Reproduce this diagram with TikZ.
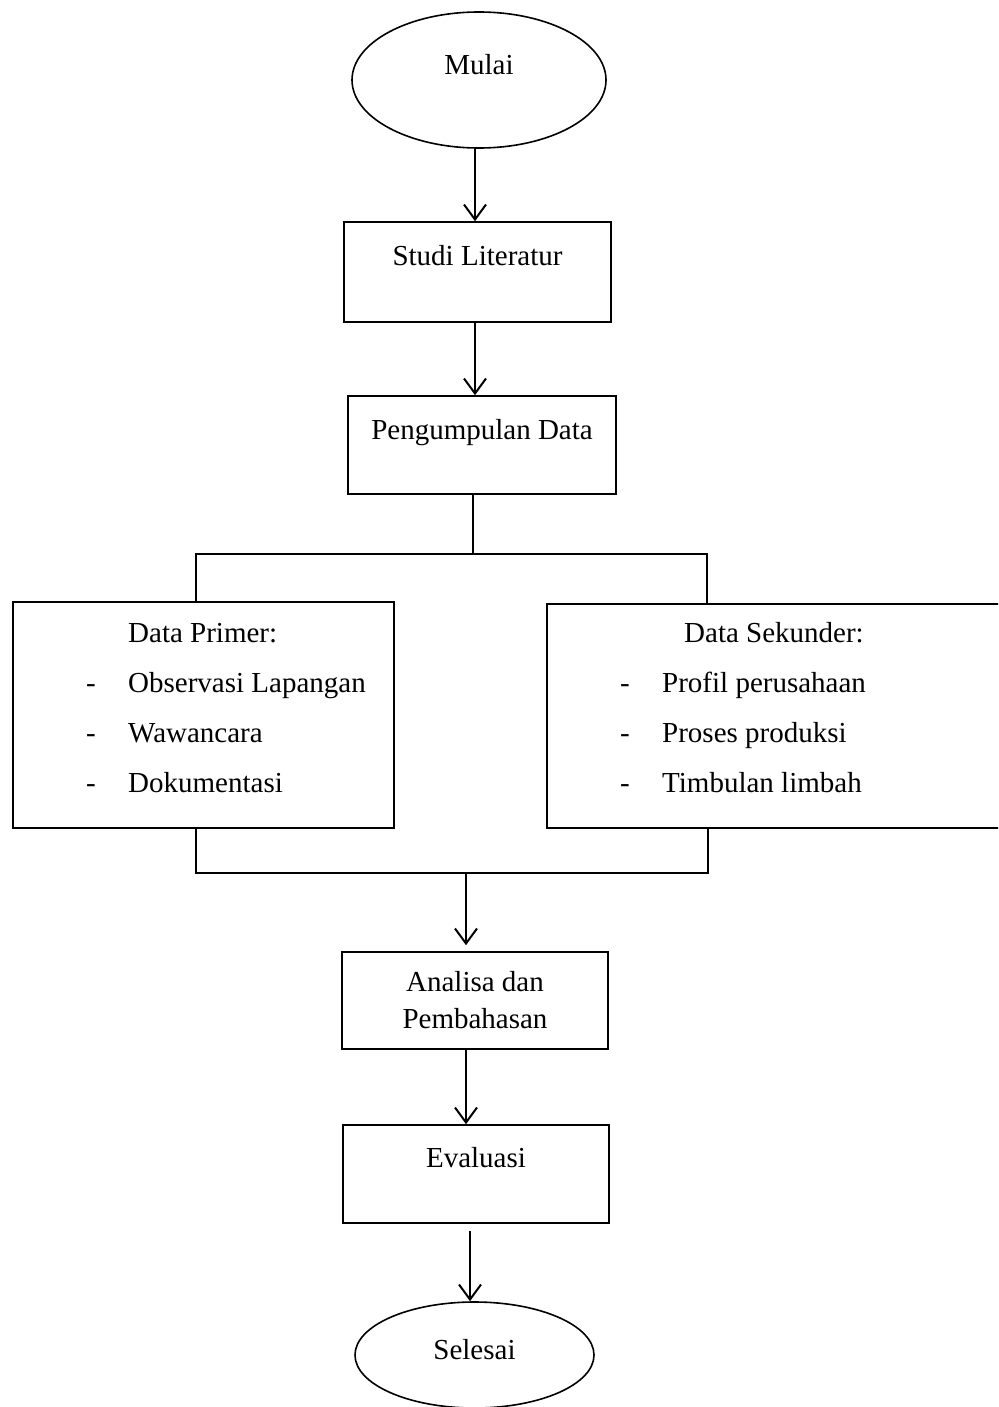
\documentclass[tikz,border=0pt]{standalone}
\usepackage{fontspec}
\setmainfont{Liberation Serif}
\usetikzlibrary{arrows.meta,shapes.geometric,calc}
\newcommand\fsz{\fontsize{29}{37}\selectfont}
\newcommand\listfont{\fontsize{29}{50}\selectfont}
\begin{document}
\begin{tikzpicture}[x=1pt,y=-1pt,
  box/.style={draw, line width=1.6pt, rectangle, inner sep=0pt, font=\fsz},
  oval/.style={draw, ellipse, line width=1.6pt, inner sep=0pt, font=\fsz},
  arr/.style={line width=2pt, -{Straight Barb[length=15pt,width=22pt]}},
  conn/.style={line width=1.6pt},
  listtext/.style={anchor=base west, inner sep=0pt, font=\listfont}
]
\clip (0,0) rectangle (998,1407);
\fill[white] (0,0) rectangle (998,1407);

\node[oval, minimum width=254pt, minimum height=136pt, text height=18pt, text depth=28pt] (mulai) at (479,80) {Mulai};
\node[box, minimum width=267pt, minimum height=100pt, text height=43pt, text depth=57pt] (studi) at (477.5,272) {Studi Literatur};
\node[box, minimum width=268pt, text height=43pt, text depth=55pt] (peng) at (482,445) {Pengumpulan Data};
\node[box, minimum width=381pt, minimum height=226pt] (prim) at (203.5,715) {};
\node[box, minimum width=458pt, minimum height=224pt] (sek) at (776,716) {};
\node[listtext] (primtext) at (86,642) {\begin{tabular}[t]{@{}p{42pt}@{}l@{}} & Data Primer:\\ - & Observasi Lapangan\\ - & Wawancara\\ - & Dokumentasi\end{tabular}};
\node[listtext] (sektext) at (620,642) {\begin{tabular}[t]{@{}p{42pt}@{}l@{}} & \hspace{22pt}Data Sekunder:\\ - & Profil perusahaan\\ - & Proses produksi\\ - & Timbulan limbah\end{tabular}};
\node[box, minimum width=266pt, text height=39pt, text depth=58pt] (anal) at (475,1000.5) {\begin{tabular}[t]{@{}c@{}}Analisa dan\\ Pembahasan\end{tabular}};
\node[box, minimum width=266pt, text height=42pt, text depth=56pt] (eval) at (476,1174) {Evaluasi};
\node[oval, minimum width=239pt, minimum height=106pt, text height=24pt, text depth=16pt] (selesai) at (474.5,1355) {Selesai};

\coordinate (a1) at (475,0);
\coordinate (a5) at (470,0);
\coordinate (split) at (473,554);
\coordinate (jl) at (196,554);
\coordinate (jr) at (707,554);
\coordinate (ml) at (196,873);
\coordinate (mr) at (708,873);
\coordinate (merge) at (466,873);
\coordinate (e5) at ($(eval.south)+(0,7)$);

\draw[arr] (mulai.south -| a1) -- (studi.north -| a1);
\draw[arr] (studi.south -| a1) -- (peng.north -| a1);
\draw[conn] (peng.south -| split) -- (split);
\draw[conn] (prim.north -| jl) -- (jl) -- (jr) -- (sek.north -| jr);
\draw[conn] (prim.south -| ml) -- (ml) -- (mr) -- (sek.south -| mr);
\draw[arr, shorten >=6pt] (merge) -- (merge |- anal.north);
\draw[arr] (anal.south -| merge) -- (merge |- eval.north);
\draw[arr] (e5 -| a5) -- (selesai.north -| a5);
\end{tikzpicture}
\end{document}
